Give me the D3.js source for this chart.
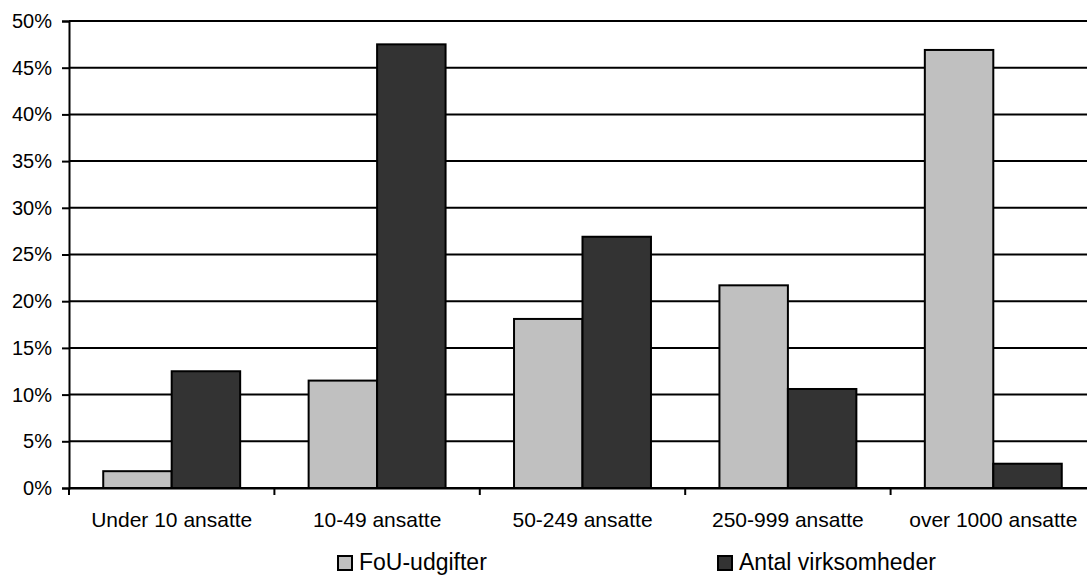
<!DOCTYPE html>
<html>
<head>
<meta charset="utf-8">
<script src="https://cdn.jsdelivr.net/npm/d3@7"></script>
<style>
  body { margin: 0; background: #fff; }
  svg text { font-family: "Liberation Sans", Arial, sans-serif; fill: #000; }
</style>
</head>
<body>
<svg id="chart" width="1087" height="576"></svg>
<script>
// categories and series
const categories = ['Under 10 ansatte', '10-49 ansatte', '50-249 ansatte', '250-999 ansatte', 'over 1000 ansatte'];
const seriesNames = ['FoU-udgifter', 'Antal virksomheder'];
const fouValues = [0.018, 0.115, 0.181, 0.217, 0.469];
const antalValues = [0.125, 0.475, 0.269, 0.106, 0.026];
const yTicks = [0, 0.05, 0.10, 0.15, 0.20, 0.25, 0.30, 0.35, 0.40, 0.45, 0.50];
const colors = ['#C0C0C0', '#333333'];

const svg = d3.select('#chart');
const plotLeft = 69, plotRight = 1096, plotTop = 21, plotBottom = 488;

const x = d3.scaleBand().domain(categories).range([plotLeft, plotRight]);
const inner = d3.scaleBand().domain(seriesNames).range([0, x.bandwidth()]).paddingInner(0).paddingOuter(0.5);
const y = d3.scaleLinear().domain([0, 0.5]).range([plotBottom, plotTop]);

// gridlines
svg.append('g').selectAll('line').data(yTicks).join('line')
    .attr('x1', plotLeft).attr('x2', plotRight)
    .attr('y1', (d) => y(d)).attr('y2', (d) => y(d))
    .attr('stroke', '#000').attr('stroke-width', 2);

// bars
const data = categories.map((c, i) => ({cat: c, vals: [fouValues[i], antalValues[i]]}));
const groups = svg.append('g').selectAll('g').data(data).join('g')
    .attr('transform', (d) => 'translate(' + x(d.cat) + ',0)');
groups.selectAll('rect').data((d) => d.vals.map((v, j) => ({v, j}))).join('rect')
    .attr('x', (d) => inner(seriesNames[d.j]))
    .attr('width', inner.bandwidth())
    .attr('y', (d) => y(d.v))
    .attr('height', (d) => plotBottom - y(d.v))
    .attr('fill', (d) => colors[d.j])
    .attr('stroke', '#000').attr('stroke-width', 2);

// y axis
const yAxis = svg.append('g').attr('transform', 'translate(' + plotLeft + ',0)')
    .call(d3.axisLeft(y).tickValues(yTicks).tickFormat(d3.format('.0%')).tickSize(7).tickPadding(10));
yAxis.select('.domain').attr('stroke', '#000').attr('stroke-width', 2);
yAxis.selectAll('.tick line').attr('stroke-width', 2);
yAxis.selectAll('text').style('font-size', '20px').style('font-family', '"Liberation Sans", Arial, sans-serif');

// x axis
const xAxis = svg.append('g').attr('transform', 'translate(0,' + plotBottom + ')')
    .call(d3.axisBottom(x).tickSize(0).tickPadding(39));
xAxis.select('.domain').attr('stroke', '#000').attr('stroke-width', 2);
xAxis.selectAll('text').attr('dy', null).style('font-size', '21px').style('font-family', '"Liberation Sans", Arial, sans-serif');
// category separator ticks
svg.append('g').selectAll('line').data(d3.range(categories.length + 1)).join('line')
    .attr('x1', (i) => plotLeft + i * x.step()).attr('x2', (i) => plotLeft + i * x.step())
    .attr('y1', plotBottom).attr('y2', plotBottom + 7)
    .attr('stroke', '#000').attr('stroke-width', 2);

// legend
const legendX = [337, 717];
const legend = svg.append('g').selectAll('g').data(seriesNames).join('g')
    .attr('transform', (d, i) => 'translate(' + legendX[i] + ',555)');
legend.append('rect').attr('x', 1).attr('y', 1).attr('width', 14).attr('height', 14)
    .attr('fill', (d, i) => colors[i]).attr('stroke', '#000').attr('stroke-width', 2);
legend.append('text').attr('x', 22).attr('y', 15).style('font-size', '23px').text((d) => d);
</script>
</body>
</html>
